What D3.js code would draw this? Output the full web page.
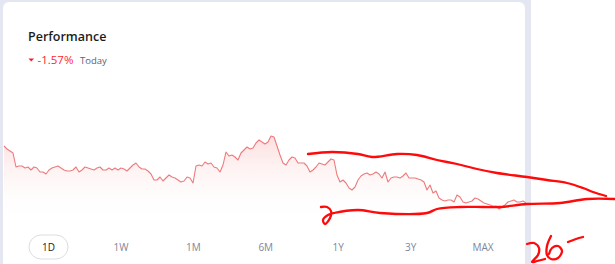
<!DOCTYPE html>
<html>
<head>
<meta charset="utf-8">
<script src="https://cdn.jsdelivr.net/npm/d3@7"></script>
<style>
  html, body { margin: 0; padding: 0; background: #fff; }
  svg { display: block; font-family: "Open Sans", "Noto Sans", sans-serif; }
</style>
</head>
<body>
<script>
// Size of the picture
var width = 615;
var height = 264;

// Price history (oldest -> newest)
var prices = [
  42, 40.5, 39.5, 38.5, 31.5, 32, 32, 31, 31.5, 30, 31.5, 31, 29, 29, 28, 30, 31, 31.5, 32, 31,
  30, 29.5, 29.5, 30, 31.5, 29, 30, 31.5, 31, 30.5, 30, 31, 31.5, 30, 30, 31, 30, 31, 30, 31,
  30.5, 29.5, 31, 32.5, 33.5, 31.5, 30.5, 30.5, 29.5, 28, 25, 25, 26.5, 24.5, 26, 27.5, 26.5, 26, 25, 24,
  24.5, 26.5, 26, 23.5, 32, 32.5, 32, 34, 33, 33.5, 31.5, 31, 29, 32.5, 39, 37, 37.5, 36.5, 35, 38.5,
  40, 41.5, 40.5, 41, 43.5, 45, 44, 43, 44, 47, 46.5, 42, 37.5, 33.5, 32.5, 35, 36.5, 36, 33.5, 33.5,
  33.5, 32, 29, 30, 31.5, 33.5, 33, 32.5, 34, 35.5, 35, 27.5, 24, 25, 23.5, 21, 20, 21.5, 25, 27,
  28, 28.5, 27.5, 28, 29, 28, 26, 29, 24, 26, 26.5, 26.5, 26, 27, 28.5, 26, 26, 26, 25.5, 25,
  24, 20, 22.5, 18.5, 19.5, 16, 15, 14.5, 15, 15, 14, 17.5, 16.5, 14, 13.5, 14, 14.5, 16, 15.5, 14.5,
  13.5, 13, 12.5, 12, 12, 10.5, 11.5, 12.5, 14, 14.5, 15, 14, 14, 14.5, 13.5
];

// Header texts
var title = "Performance";
var changeText = "-1.57%";
var changeLabel = "Today";

// Range buttons
var ranges = ["1D", "1W", "1M", "6M", "1Y", "3Y", "MAX"];
var activeRange = "1D";

// Hand drawn red marks on top of the screenshot (pixel points)
var markUpper = [[308,154],[332,152],[358,154],[372,157],[397,154],[417,155],[437,160],[457,164],[477,169],
  [497,173],[527,177],[547,180],[567,183],[583,188],[593,192],[606,196]];
var markLower = [[321,207],[327,207],[331,211],[330,218],[325,224],[323,220],[328,215],[334,213],[358,210],
  [380,213],[427,213],[437,209],[460,207],[483,207],[500,207],[527,204],[560,203],[587,199],[615,199]];
var markTwo = [[527,244],[534,243],[539,248],[538,255],[532,262],[537,261],[545,259]];
var markSix = [[551,236],[547,246],[547,255],[551,259],[558,258],[562,251],[558,246],[552,248],[549,254]];
var markDash = [[568,242],[576,239],[583,237]];

var svg = d3.select("body").append("svg")
  .attr("width", width)
  .attr("height", height);

// Page background and card
svg.append("rect").attr("width", width).attr("height", height).attr("fill", "#ffffff");
svg.append("rect").attr("x", 0).attr("y", 0).attr("width", 531).attr("height", height).attr("fill", "#e4e7f1");
svg.append("rect")
  .attr("x", 3).attr("y", 2)
  .attr("width", 522).attr("height", height + 10)
  .attr("rx", 6)
  .attr("fill", "#ffffff");

// Header
svg.append("text")
  .attr("x", 28).attr("y", 41)
  .attr("font-size", 12.5).attr("font-weight", 600)
  .attr("fill", "#1c1c1e")
  .text(title);

svg.append("path")
  .attr("d", "M28.5,58.5 L34,58.5 L31.25,61.5 Z")
  .attr("fill", "#f01e2c");

svg.append("text")
  .attr("x", 37.5).attr("y", 63.5)
  .attr("font-size", 11.5)
  .attr("fill", "#ff1f2d")
  .text(changeText);

svg.append("text")
  .attr("x", 80).attr("y", 63.5)
  .attr("font-size", 9.5)
  .attr("fill", "#5b6075")
  .text(changeLabel);

// Scales
var x = d3.scaleLinear().domain([0, prices.length - 1]).range([4, 526]);
var y = d3.scaleLinear().domain([0, 45]).range([230, 140]);

// Area gradient
var defs = svg.append("defs");
var grad = defs.append("linearGradient")
  .attr("id", "areaFill")
  .attr("x1", 0).attr("y1", 0).attr("x2", 0).attr("y2", 1);
grad.append("stop").attr("offset", "0%").attr("stop-color", "#fcd6d6").attr("stop-opacity", 0.8);
grad.append("stop").attr("offset", "100%").attr("stop-color", "#ffffff").attr("stop-opacity", 0);

var area = d3.area()
  .x(function(d, i) { return x(i); })
  .y0(222)
  .y1(function(d) { return y(d); });

var line = d3.line()
  .x(function(d, i) { return x(i); })
  .y(function(d) { return y(d); });

svg.append("path")
  .datum(prices)
  .attr("d", area)
  .attr("fill", "url(#areaFill)");

svg.append("path")
  .datum(prices)
  .attr("d", line)
  .attr("fill", "none")
  .attr("stroke", "#ee7a7c")
  .attr("stroke-width", 1.1)
  .attr("stroke-linejoin", "round");

// Range buttons
var bx = d3.scalePoint().domain(ranges).range([48.5, 483]);

var buttons = svg.append("g").selectAll("g")
  .data(ranges)
  .enter()
  .append("g")
  .attr("transform", function(d) { return "translate(" + bx(d) + ",247)"; });

buttons.filter(function(d) { return d === activeRange; })
  .append("rect")
  .attr("x", -19.5).attr("y", -12)
  .attr("width", 39).attr("height", 24)
  .attr("rx", 12)
  .attr("fill", "#ffffff")
  .attr("stroke", "#dcdde2");

buttons.append("text")
  .attr("text-anchor", "middle")
  .attr("dy", "0.35em")
  .attr("font-size", 10)
  .attr("fill", function(d) { return d === activeRange ? "#1c1c1e" : "#80869a"; })
  .text(function(d) { return d; });

// Red hand drawn marks
var pen = d3.line().curve(d3.curveCatmullRom);
[markUpper, markLower, markTwo, markSix, markDash].forEach(function(pts) {
  svg.append("path")
    .attr("d", pen(pts))
    .attr("fill", "none")
    .attr("stroke", "#ff0a0a")
    .attr("stroke-width", 2.3)
    .attr("stroke-linecap", "round")
    .attr("stroke-linejoin", "round");
});
</script>
</body>
</html>
